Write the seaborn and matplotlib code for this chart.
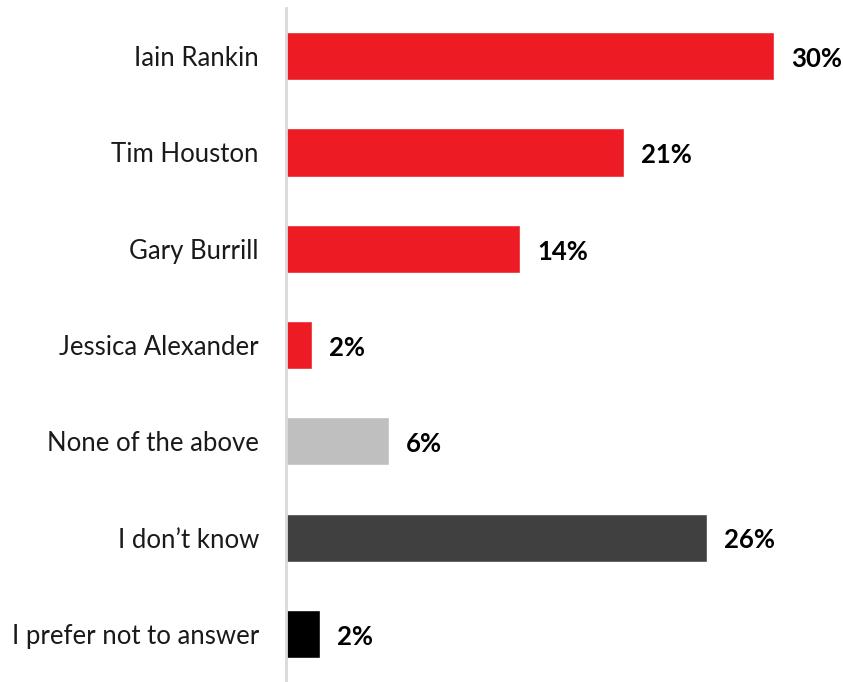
import matplotlib
matplotlib.use("Agg")
import matplotlib.pyplot as plt
import seaborn as sns
import pandas as pd

categories = ["Iain Rankin", "Tim Houston", "Gary Burrill", "Jessica Alexander",
              "None of the above", "I don\u2019t know", "I prefer not to answer"]
values = [30.0, 20.8, 14.4, 1.6, 6.3, 25.9, 2.1]
labels = ["30%", "21%", "14%", "2%", "6%", "26%", "2%"]
colors = ["#ED1C24", "#ED1C24", "#ED1C24", "#ED1C24", "#BFBFBF", "#404040", "#000000"]

sns.set_style("white")
plt.rcParams["font.family"] = ["Lato", "DejaVu Sans"]

df = pd.DataFrame({"cat": categories, "val": values})

fig = plt.figure(figsize=(8.43, 6.82), dpi=100)
ax = fig.add_axes([286 / 843, 0, 557 / 843, 674 / 682])

sns.barplot(data=df, y="cat", x="val", hue="cat", palette=colors, orient="h",
            width=0.5, dodge=False, legend=False, ax=ax, saturation=1)

ax.set_xlim(0, 557 / 16.27)
ax.set_ylim(6.5, -0.5)
ax.set_xlabel("")
ax.set_ylabel("")
ax.set_xticks([])
for s in ["top", "right", "bottom"]:
    ax.spines[s].set_visible(False)
ax.spines["left"].set_color("#D9D9D9")
ax.spines["left"].set_linewidth(2)
ax.tick_params(axis="y", length=0, pad=19.5, labelsize=18.5, labelcolor="#1a1a1a")

for i, (v, lab) in enumerate(zip(values, labels)):
    ax.text(v + 1.05, i + 0.03, lab, va="center", ha="left", fontsize=18.5,
            fontweight="bold", color="black")

fig.savefig("out.png", dpi=100)
